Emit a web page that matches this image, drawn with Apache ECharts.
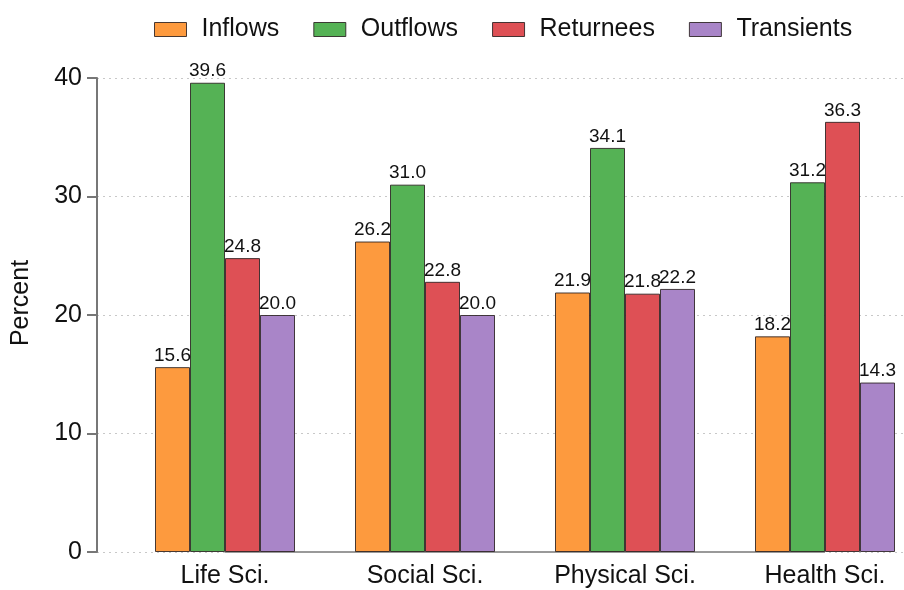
<!DOCTYPE html>
<html>
<head>
<meta charset="utf-8">
<script src="https://cdn.jsdelivr.net/npm/echarts@6/dist/echarts.min.js"></script>
<style>
  html, body { margin: 0; padding: 0; background: #fff; }
  #chart { width: 904px; height: 590px; }
</style>
</head>
<body>
<div id="chart"></div>
<script>
(function() {
  var categories = ['Life Sci.', 'Social Sci.', 'Physical Sci.', 'Health Sci.'];
  var inflows = [15.6, 26.2, 21.9, 18.2];
  var outflows = [39.6, 31.0, 34.1, 31.2];
  var returnees = [24.8, 22.8, 21.8, 36.3];
  var transients = [20.0, 20.0, 22.2, 14.3];
  var yTicks = [0, 10, 20, 30, 40];

  var font = 'Liberation Sans, Arial, sans-serif';
  var border = 'rgba(40,30,30,0.85)';

  function barSeries(name, data, color) {
    return {
      name: name,
      type: 'bar',
      xAxisIndex: 1,
      yAxisIndex: 1,
      data: data,
      barGap: '0%',
      barCategoryGap: '30%',
      itemStyle: { color: color, borderColor: border, borderWidth: 1 },
      label: {
        show: true,
        position: 'top',
        distance: 2,
        color: '#111',
        fontFamily: font,
        fontSize: 19,
        formatter: function(p) { return p.value.toFixed(1); }
      }
    };
  }

  var chart = echarts.init(document.getElementById('chart'), null, { renderer: 'canvas' });
  chart.setOption({
    animation: false,
    textStyle: { fontFamily: font },
    legend: {
      top: 12,
      left: 149,
      itemWidth: 32,
      itemHeight: 14,
      itemGap: 34,
      icon: 'rect',
      itemStyle: { borderColor: border, borderWidth: 1 },
      textStyle: { fontSize: 25, color: '#111', fontFamily: font, padding: [0, 0, 0, 10] },
      data: ['Inflows', 'Outflows', 'Returnees', 'Transients']
    },
    grid: [
      { left: 97, right: 0, top: 78, bottom: 38, outerBoundsMode: 'none', containLabel: false },
      { left: 125, width: 800, top: 78, bottom: 38, outerBoundsMode: 'none', containLabel: false }
    ],
    xAxis: [
      { type: 'category', gridIndex: 0, data: categories, show: false },
      {
        type: 'category',
        gridIndex: 1,
        data: categories,
        axisLine: { show: false },
        axisTick: { show: false },
        axisLabel: { fontSize: 25, color: '#111', margin: 12, fontFamily: font }
      }
    ],
    yAxis: [
      {
        type: 'value',
        gridIndex: 0,
        min: yTicks[0],
        max: yTicks[yTicks.length - 1],
        interval: 10,
        name: 'Percent',
        nameLocation: 'middle',
        nameGap: 63,
        nameTextStyle: { fontSize: 25, color: '#111', fontFamily: font, padding: [0, 0, 0, 24] },
        axisLine: { show: true, lineStyle: { color: '#777', width: 2 } },
        axisTick: { show: true, length: 10, lineStyle: { color: '#777', width: 2 } },
        axisLabel: { fontSize: 25, color: '#111', margin: 15, fontFamily: font },
        splitLine: { show: true, lineStyle: { color: '#c8c8c8', type: [2, 4], width: 1 } }
      },
      {
        type: 'value',
        gridIndex: 1,
        min: yTicks[0],
        max: yTicks[yTicks.length - 1],
        interval: 10,
        show: false,
        splitLine: { show: false }
      }
    ],
    series: [
      barSeries('Inflows', inflows, '#FD9A3E'),
      barSeries('Outflows', outflows, '#55B255'),
      barSeries('Returnees', returnees, '#DE5055'),
      barSeries('Transients', transients, '#A985C8'),
      {
        type: 'line',
        xAxisIndex: 1,
        yAxisIndex: 1,
        silent: true,
        data: categories.map(function() { return 0; }),
        symbol: 'none',
        z: 1,
        lineStyle: { color: '#999', width: 2 }
      }
    ]
  });
})();
</script>
</body>
</html>
